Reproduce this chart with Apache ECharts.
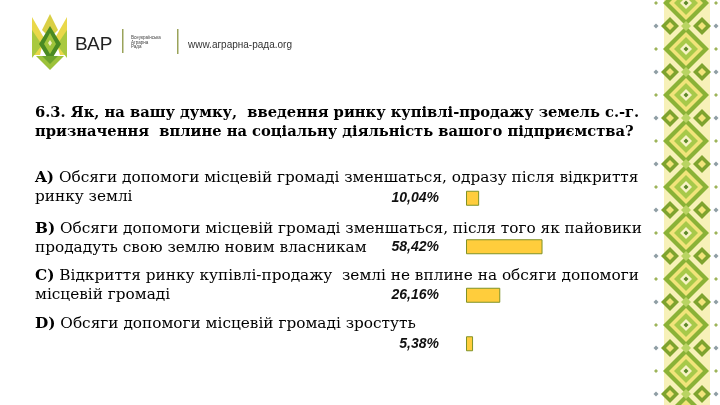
<!DOCTYPE html>
<html>
<head>
<meta charset="utf-8">
<script src="https://cdn.jsdelivr.net/npm/echarts@6/dist/echarts.min.js"></script>
<style>
  html, body { margin: 0; padding: 0; background: #fff; }
  #chart { width: 720px; height: 405px; }
</style>
</head>
<body>
<div id="chart"></div>
<script>
// дані
var categories = ['A', 'B', 'C', 'D'];
var shares = [10.04, 58.42, 26.16, 5.38];

var titleLines = [
    '6.3. Як, на вашу думку,  введення ринку купівлі-продажу земель с.-г.',
    'призначення  вплине на соціальну діяльність вашого підприємства?'
];
var answerLines = [
    ['A)', ' Обсяги допомоги місцевій громаді зменшаться, одразу після відкриття', 'ринку землі'],
    ['B)', ' Обсяги допомоги місцевій громаді зменшаться, після того як пайовики', 'продадуть свою землю новим власникам'],
    ['C)', ' Відкриття ринку купівлі-продажу  землі не вплине на обсяги допомоги', 'місцевій громаді'],
    ['D)', ' Обсяги допомоги місцевій громаді зростуть', '']
];
var answerY = [178, 229, 276, 324];

var serif = 'DejaVu Serif';
var green = '#7ea32e';

function textEl(x, y, text, style) {
    return {
        type: 'text', x: x, y: y, silent: true,
        style: Object.assign({ text: text, fill: '#000', verticalAlign: 'middle' }, style)
    };
}

function buildTexts() {
    var els = [];
    els.push(textEl(35, 113, titleLines[0], { font: 'bold 14.7px "' + serif + '"' }));
    els.push(textEl(35, 132, titleLines[1], { font: 'bold 14.7px "' + serif + '"' }));
    answerLines.forEach(function (a, i) {
        els.push({
            type: 'text', x: 35, y: answerY[i], silent: true,
            style: {
                text: '{b|' + a[0] + '}{r|' + a[1] + '}',
                verticalAlign: 'middle',
                rich: {
                    b: { font: 'bold 15.3px "' + serif + '"', fill: '#000' },
                    r: { font: '15.3px "' + serif + '"', fill: '#000' }
                }
            }
        });
        if (a[2]) {
            els.push(textEl(35, answerY[i] + 19, a[2], { font: '15.3px "' + serif + '"' }));
        }
    });
    return els;
}

function buildLogo() {
    var els = [];
    function poly(pts, color) {
        els.push({ type: 'polygon', silent: true, shape: { points: pts }, style: { fill: color } });
    }
    // корона
    poly([[32, 17], [44, 38], [40, 55], [32, 55]], '#e9d84a');
    poly([[67, 17], [55, 38], [60, 55], [67, 55]], '#e9d84a');
    poly([[32, 30], [42, 45], [32, 58]], '#a9c93f');
    poly([[67, 30], [57, 45], [67, 58]], '#a9c93f');
    poly([[50, 14], [58, 30], [50, 38], [42, 30]], '#d9cf45');
    poly([[50, 26], [61, 44], [50, 62], [39, 44]], '#4a8a22');
    poly([[50, 33], [56, 44], [50, 54], [44, 44]], '#9fc43a');
    poly([[50, 40], [52, 43], [50, 46], [48, 43]], '#f4f0c8');
    poly([[36, 56], [64, 56], [50, 70]], '#9cc23a');
    poly([[42, 56], [58, 56], [50, 64]], '#6da42c');

    els.push(textEl(75, 45, 'ВАР', { font: '19px "Liberation Sans"', fill: '#222' }));
    els.push({ type: 'rect', silent: true, shape: { x: 122, y: 29, width: 1.5, height: 24 }, style: { fill: '#9aa35a' } });
    ['Всеукраїнська', 'Аграрна', 'Рада'].forEach(function (t, i) {
        els.push(textEl(131, 38 + i * 4.5, t, { font: '4.5px "Liberation Sans"', fill: '#444' }));
    });
    els.push({ type: 'rect', silent: true, shape: { x: 177, y: 29, width: 1.5, height: 25 }, style: { fill: '#9aa35a' } });
    els.push(textEl(188, 45, 'www.аграрна-рада.org', { font: '10px "Liberation Sans"', fill: '#333' }));
    return els;
}

function diamond(cx, cy, r, color) {
    return {
        type: 'polygon', silent: true,
        shape: { points: [[cx, cy - r], [cx + r, cy], [cx, cy + r], [cx - r, cy]] },
        style: { fill: color }
    };
}

function buildOrnament() {
    var els = [];
    els.push({ type: 'rect', silent: true, shape: { x: 664, y: 0, width: 46, height: 405 }, style: { fill: '#f7f1b8' } });
    for (var y0 = -20; y0 < 430; y0 += 46) {
        var cy = y0 + 23;
        els.push(diamond(686, cy, 23, '#8ab236'));
        els.push(diamond(686, cy, 17, '#f1e47a'));
        els.push(diamond(686, cy, 12, '#a7c94a'));
        els.push(diamond(686, cy, 6, '#f8f3c6'));
        els.push(diamond(686, cy, 2.5, '#5d8a2a'));
        els.push(diamond(670, y0, 9, green));
        els.push(diamond(702, y0, 9, green));
        els.push(diamond(670, y0, 4, '#f1e47a'));
        els.push(diamond(702, y0, 4, '#f1e47a'));
        els.push(diamond(686, y0, 5, '#b9d462'));
        els.push(diamond(656, y0, 2.5, '#8f9ea4'));
        els.push(diamond(716, y0, 2.5, '#8f9ea4'));
        els.push(diamond(656, cy, 2, '#9db45a'));
        els.push(diamond(716, cy, 2, '#9db45a'));
    }
    return els;
}

var chart = echarts.init(document.getElementById('chart'));
var option = {
    backgroundColor: '#fff',
    animation: false,
    grid: { left: 466, width: 131, top: 174, bottom: 37 },
    xAxis: { type: 'value', min: 0, max: 100, show: false },
    yAxis: { type: 'category', data: categories, inverse: true, show: false },
    series: [{
        type: 'bar',
        data: shares,
        barWidth: 15,
        itemStyle: { color: '#ffcd3c', borderColor: '#7f9227', borderWidth: 1 },
        label: {
            show: true,
            position: 'left',
            distance: 27,
            fontFamily: 'Liberation Sans',
            fontWeight: 'bold',
            fontStyle: 'italic',
            fontSize: 14,
            color: '#111',
            formatter: function (p) { return p.value.toFixed(2).replace('.', ',') + '%'; }
        }
    }],
    graphic: buildTexts().concat(buildLogo(), buildOrnament())
};
chart.setOption(option);
window.onresize = chart.resize;
</script>
</body>
</html>
